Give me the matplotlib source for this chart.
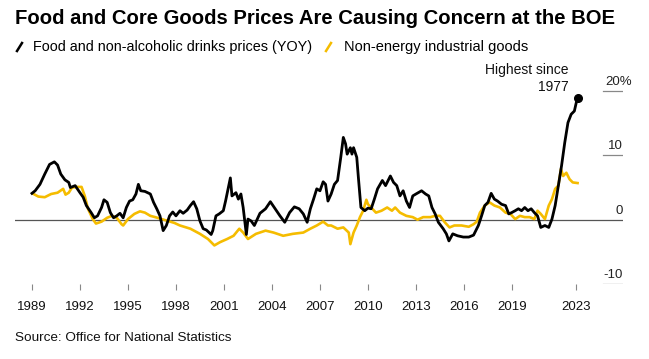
import matplotlib
matplotlib.use("Agg")
import matplotlib.pyplot as plt
from matplotlib.lines import Line2D
from matplotlib.transforms import ScaledTranslation

# Food and non-alcoholic drinks prices, YoY %
food_years = [1989.0, 1989.2, 1989.5, 1989.8, 1990.1, 1990.4, 1990.6, 1990.8, 1991.06, 1991.3,
              1991.4, 1991.7, 1992.0, 1992.2, 1992.4, 1992.7, 1992.9, 1993.1, 1993.35, 1993.5,
              1993.7, 1993.9, 1994.1, 1994.3, 1994.5, 1994.7, 1994.9, 1995.1, 1995.3, 1995.5,
              1995.65, 1995.8, 1996.06, 1996.4, 1996.6, 1996.8, 1997.0, 1997.2, 1997.4, 1997.6,
              1997.8, 1998.0, 1998.25, 1998.45, 1998.7, 1998.9, 1999.1, 1999.3, 1999.5, 1999.7,
              1999.9, 2000.2, 2000.3, 2000.5, 2000.7, 2000.96, 2001.1, 2001.3, 2001.4, 2001.5,
              2001.75, 2001.9, 2002.06, 2002.2, 2002.4, 2002.5, 2002.7, 2002.9, 2003.25, 2003.6,
              2003.9, 2004.2, 2004.5, 2004.8, 2005.1, 2005.4, 2005.7, 2005.96, 2006.2, 2006.4,
              2006.6, 2006.8, 2007.0, 2007.2, 2007.35, 2007.5, 2007.7, 2007.9, 2008.1, 2008.3,
              2008.46, 2008.6, 2008.7, 2008.9, 2009.0, 2009.1, 2009.3, 2009.4, 2009.56, 2009.8,
              2010.0, 2010.2, 2010.4, 2010.6, 2010.9, 2011.1, 2011.4, 2011.6, 2011.8, 2012.0,
              2012.2, 2012.4, 2012.6, 2012.8, 2013.0, 2013.35, 2013.6, 2013.8, 2014.0, 2014.2,
              2014.4, 2014.7, 2014.9, 2015.06, 2015.3, 2015.6, 2015.96, 2016.3, 2016.6, 2016.9,
              2017.1, 2017.3, 2017.5, 2017.7, 2017.9, 2018.1, 2018.35, 2018.6, 2018.8, 2018.98,
              2019.2, 2019.4, 2019.6, 2019.8, 2020.0, 2020.2, 2020.4, 2020.6, 2020.8, 2021.06,
              2021.3, 2021.5, 2021.7, 2021.9, 2022.1, 2022.3, 2022.5, 2022.7, 2022.9, 2023.0,
              2023.1]
food_vals = [4.1, 4.5, 5.5, 7.1, 8.6, 9.0, 8.5, 7.1, 6.2, 5.8,
             5.0, 5.3, 4.2, 3.5, 2.2, 1.1, 0.3, 0.6, 1.9, 3.1,
             2.7, 1.1, 0.3, 0.6, 1.0, 0.3, 1.9, 2.9, 3.1, 4.0,
             5.5, 4.5, 4.4, 4.0, 2.7, 1.7, 0.6, -1.7, -0.9, 0.6,
             1.2, 0.6, 1.4, 1.0, 1.5, 2.2, 2.8, 1.7, -0.2, -1.4,
             -1.6, -2.3, -1.7, 0.6, 0.9, 1.4, 2.9, 5.3, 6.5, 3.7,
             4.2, 3.2, 4.0, 1.9, -2.3, 0.1, -0.2, -0.9, 1.0, 1.7,
             2.8, 1.7, 0.6, -0.4, 1.1, 2.0, 1.7, 0.9, -0.4, 1.7,
             3.2, 4.8, 4.5, 5.9, 5.5, 2.9, 4.0, 5.5, 6.1, 9.7,
             12.8, 11.8, 10.2, 11.2, 10.2, 11.2, 9.7, 6.6, 1.9, 1.4,
             1.8, 1.7, 3.2, 4.8, 6.1, 5.3, 6.8, 5.8, 5.3, 3.7,
             4.5, 2.9, 1.9, 3.7, 4.0, 4.5, 4.0, 3.7, 1.9, 0.9,
             -0.4, -1.4, -2.2, -3.3, -2.2, -2.5, -2.7, -2.7, -2.4, -0.9,
             0.6, 2.2, 2.7, 4.1, 3.2, 2.9, 2.4, 2.2, 0.9, 1.1,
             1.4, 1.7, 1.4, 1.9, 1.4, 1.7, 1.1, 0.6, -1.2, -0.9,
             -1.2, 0.1, 2.2, 5.3, 8.4, 12.0, 15.1, 16.4, 16.9, 18.0,
             19.0]

# Non-energy industrial goods, YoY %
goods_years = [1989.1, 1989.4, 1989.8, 1990.2, 1990.6, 1990.95, 1991.1, 1991.3, 1991.5, 1991.8,
               1992.1, 1992.3, 1992.5, 1992.8, 1993.0, 1993.35, 1993.7, 1994.0, 1994.3, 1994.6,
               1994.7, 1995.0, 1995.4, 1995.75, 1996.06, 1996.4, 1996.7, 1997.1, 1997.5, 1997.9,
               1998.25, 1998.9, 1999.5, 2000.0, 2000.4, 2000.75, 2001.2, 2001.6, 2001.96, 2002.2,
               2002.5, 2003.0, 2003.6, 2004.1, 2004.7, 2005.3, 2005.96, 2006.4, 2006.8, 2007.2,
               2007.5, 2007.7, 2008.1, 2008.46, 2008.8, 2008.9, 2009.1, 2009.3, 2009.5, 2009.7,
               2009.9, 2010.0, 2010.2, 2010.5, 2010.85, 2011.2, 2011.5, 2011.7, 2012.0, 2012.4,
               2012.8, 2013.1, 2013.45, 2013.9, 2014.2, 2014.5, 2014.8, 2015.1, 2015.4, 2015.85,
               2016.3, 2016.6, 2016.8, 2017.0, 2017.3, 2017.6, 2017.9, 2018.25, 2018.6, 2018.9,
               2019.2, 2019.5, 2019.8, 2020.1, 2020.4, 2020.6, 2020.8, 2021.06, 2021.3, 2021.5,
               2021.7, 2021.9, 2022.06, 2022.2, 2022.4, 2022.6, 2022.8, 2023.1]
goods_vals = [4.0, 3.6, 3.5, 4.0, 4.2, 4.8, 3.9, 4.2, 5.0, 5.1,
              5.1, 3.7, 1.7, 0.1, -0.6, -0.3, 0.3, 0.6, 0.3, -0.7,
              -0.9, 0.1, 0.9, 1.3, 1.1, 0.6, 0.4, 0.1, -0.2, -0.5,
              -0.9, -1.4, -2.2, -3.0, -4.0, -3.5, -3.0, -2.5, -1.4, -2.0,
              -3.0, -2.2, -1.7, -2.0, -2.5, -2.2, -2.0, -1.4, -0.9, -0.3,
              -0.9, -0.9, -1.4, -1.2, -2.0, -3.8, -2.0, -0.9, 0.4, 1.4,
              3.1, 2.4, 1.9, 1.1, 1.4, 1.9, 1.4, 1.9, 1.1, 0.6,
              0.4, 0.0, 0.4, 0.4, 0.6, 0.6, -0.4, -1.2, -0.9, -0.9,
              -1.1, -0.7, -0.3, 1.1, 2.2, 2.7, 2.2, 1.9, 1.1, 0.9,
              0.1, 0.6, 0.4, 0.4, 0.1, 1.4, 0.9, 0.1, 2.2, 3.2,
              4.8, 5.3, 7.9, 6.8, 7.3, 6.3, 5.8, 5.7]

tick_years = [1989, 1992, 1995, 1998, 2001, 2004, 2007, 2010, 2013, 2016, 2019, 2023]
y_levels = [20, 10, 0, -10]
y_labels = ["20%", "10", "0", "-10"]

BLACK = "#000000"
YELLOW = "#F5BC00"
GRID = "#888888"
W, H = 649, 359

plt.rcParams['font.family'] = ['Liberation Sans', 'DejaVu Sans']


def px(x, y):
    # pixel position (from top-left) -> figure fraction
    return x / W, 1 - y / H


fig = plt.figure(figsize=(W / 100, H / 100), dpi=100)
ax = fig.add_axes([15 / W, 75 / H, 608 / W, 224 / H])

ax.plot(goods_years, goods_vals, color=YELLOW, lw=1.9, solid_joinstyle='round')
ax.plot(food_years, food_vals, color=BLACK, lw=2.0, solid_joinstyle='round')
ax.plot(food_years[-1], food_vals[-1], 'o', color=BLACK, ms=5.5)

ax.set_xlim(1987.94, 2025.94)
ax.set_ylim(-10, 24.84)

for s in ax.spines.values():
    s.set_visible(False)

# zero line across the whole plot, short grid stubs under the labels
ax.axhline(0, color="#555555", lw=0.9, zorder=0)
lab_off = ScaledTranslation(0, 3 / 100, fig.dpi_scale_trans)
lab_x = (605 - 15) / 608
for v, lab in zip(y_levels, y_labels):
    if v != 0:
        ax.axhline(v, xmin=0.967, xmax=1.0, color=GRID, lw=0.9)
    if lab.endswith("%"):
        ax.text(lab_x, v, lab, transform=ax.get_yaxis_transform() + lab_off,
                ha='left', va='bottom', fontsize=9.5, color="#222222")
    else:
        ax.text(1.0, v, lab, transform=ax.get_yaxis_transform() + lab_off,
                ha='right', va='bottom', fontsize=9.5, color="#222222")

ax.set_yticks([])
ax.set_xticks(tick_years)
ax.set_xticklabels([str(y) for y in tick_years])
ax.tick_params(axis='x', length=4, width=0.8, color=GRID, pad=8,
               labelsize=9.5, labelcolor="#111111")

ax.annotate("Highest since\n1977", xy=(food_years[-1], food_vals[-1]),
            xytext=(-9, 4), textcoords='offset pixels', ha='right', va='bottom',
            fontsize=10, linespacing=1.2, color="#111111")

# title, legend and source
fig.text(*px(15, 19), "Food and Core Goods Prices Are Causing Concern at the BOE",
         fontsize=14.6, fontweight='bold', va='center', ha='left')

fig.add_artist(Line2D([17 / W, 22 / W], [1 - 51 / H, 1 - 43 / H], color=BLACK, lw=1.8))
fig.text(*px(33, 47), "Food and non-alcoholic drinks prices (YOY)",
         fontsize=10.4, va='center', ha='left')
fig.add_artist(Line2D([326 / W, 331 / W], [1 - 51 / H, 1 - 43 / H], color=YELLOW, lw=1.8))
fig.text(*px(344, 47), "Non-energy industrial goods",
         fontsize=10.5, va='center', ha='left')

fig.text(*px(15, 338), "Source: Office for National Statistics",
         fontsize=9.7, va='center', ha='left', color="#111111")

fig.savefig("out.png", dpi=100)
